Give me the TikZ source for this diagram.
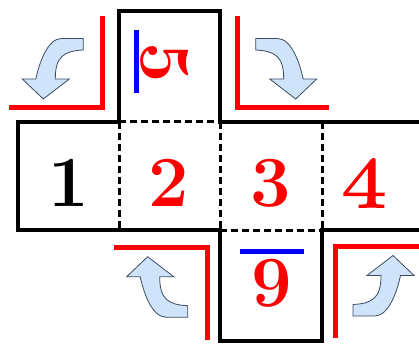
\documentclass[tikz,border=0pt]{standalone}
\usepackage{fontspec}
\usepackage{amsmath,amssymb}
\newfontface\heavyfour{lmroman10-regular.otf}[FakeBold=1.6]
\definecolor{arrowblue}{RGB}{207,228,250}
\definecolor{arrowline}{RGB}{60,75,95}
\tikzset{
  solidedge/.style={line width=4.5pt},
  dashedge/.style={line width=3pt,dash pattern=on 7pt off 4pt},
  redmark/.style={red,line width=5pt},
  bluebar/.style={blue,line width=5pt},
  numbox/.style={inner sep=0pt,font=\fontsize{72}{80}\selectfont\bfseries},
  turnarrow/.pic={
    \draw [fill=arrowblue,draw=arrowline,line width=0.8pt] (0,0) -- (-21,-20) -- (-7.5,-20)
      .. controls (-4,-36) and (4,-60) .. (18,-60.5) -- (40,-60.5) -- (40,-49)
      .. controls (20,-48) and (12,-42) .. (12,-20) -- (26,-20) -- cycle;
  }
}
\begin{document}
\begin{tikzpicture}[x=1pt,y=-1pt]
\useasboundingbox (0,0) rectangle (419,344);

% fold lines of the net
\draw [dashedge] (119,122)--(220,122);
\draw [dashedge] (220,230)--(322,230);
\draw [dashedge] (119,122)--(119,230);
\draw [dashedge] (220,122)--(220,230);
\draw [dashedge] (322,122)--(322,230);

% outline of the net
\draw [solidedge] (18,122)--(119,122)--(119,11)--(220,11)--(220,122)--(424,122)--(424,230)
      --(322,230)--(322,341)--(220,341)--(220,230)--(18,230)--cycle;

% faces
\node [numbox] (one) at (69,183) {1};
\node [numbox,red] (two) at (169,183) {2};
\node [numbox,red] (three) at (271,183) {3};
\node [inner sep=0pt,red,font=\fontsize{72}{80}\heavyfour] (four) at (364,183) {\scalebox{1.25}[1]{4}};
\node [numbox,red,rotate=-90] (five) at (164.5,62.5) {5};
\node [numbox,red] (nine) at (271.5,283) {9};

% bars under the turned faces
\draw [bluebar] (136,30)--(136,93);
\draw [bluebar] (240,251)--(304,251);

% corners where the faces fold
\draw [redmark] (9,108)--(102,108)--(102,16);
\draw [redmark] (237,16)--(237,108)--(329,108);
\draw [redmark] (114,247)--(207,247)--(207,340);
\draw [redmark] (335,338)--(335,246)--(425,246);

% turning arrows
\pic at (43.3,99) {turnarrow};
\pic [xscale=-1] at (295.7,99) {turnarrow};
\pic [yscale=-1] at (147.7,256.7) {turnarrow};
\pic [xscale=-1,yscale=-1] at (393,255.5) {turnarrow};

\end{tikzpicture}
\end{document}
